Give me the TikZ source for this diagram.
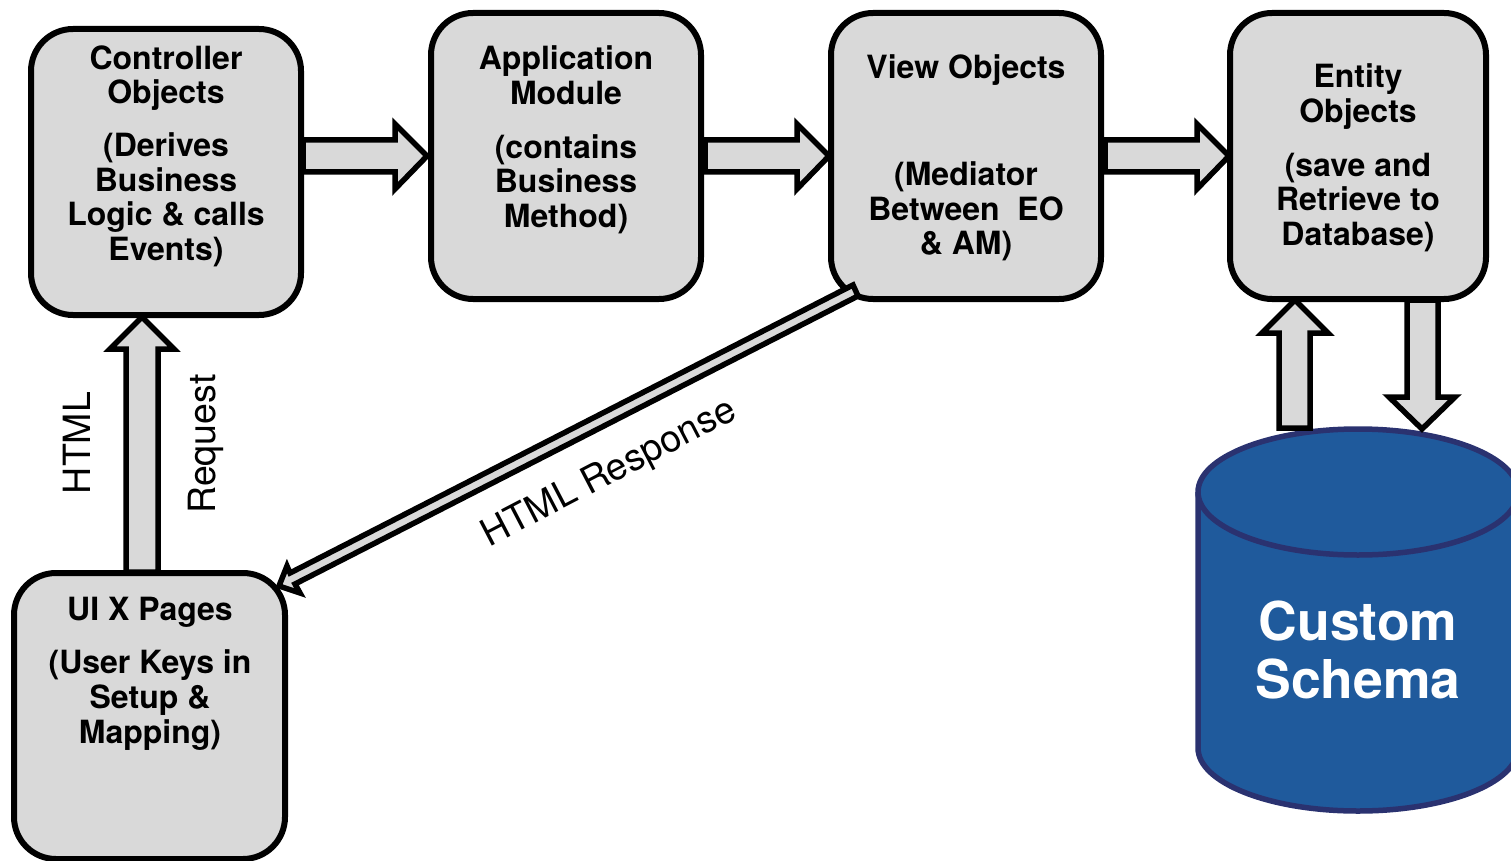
\documentclass[tikz,border=0pt]{standalone}
\usepackage{fontspec}
\setmainfont{TeX Gyre Heros}
\definecolor{boxgray}{RGB}{217,217,217}
\definecolor{dbblue}{RGB}{31,90,156}
\definecolor{dbline}{RGB}{42,50,112}
\tikzset{
  x=1pt,y=-1pt,
  boxnode/.style={draw=black,line width=6pt,fill=boxgray,rounded corners=42pt,minimum width=#1,inner sep=0pt,anchor=north west},
  blockarrow/.style={draw=black,line width=5.5pt,fill=boxgray,miter limit=10},
  boxtext/.style={font=\fontsize{32}{34.5}\selectfont\bfseries,text=black,text height=23pt,text depth=0pt,inner sep=0pt},
  dbtext/.style={font=\fontsize{53.5}{58}\selectfont\bfseries,text=white,text height=38pt,text depth=0pt,inner sep=0pt},
  plaintext/.style={font=\fontsize{37.5}{40}\selectfont,text=black},
  cyl/.style={draw=dbline,line width=5.5pt},
}
\begin{document}
\begin{tikzpicture}
\useasboundingbox (0,0) rectangle (1511,861);
% database cylinder
\draw[cyl,fill=dbblue] (1198,492) -- (1198,748)
  .. controls (1198,782.8) and (1269.6,811) .. (1358,811)
  .. controls (1446.4,811) and (1518,782.8) .. (1518,748) -- (1518,492)
  .. controls (1518,457.2) and (1446.4,429) .. (1358,429)
  .. controls (1269.6,429) and (1198,457.2) .. cycle;
\draw[cyl] (1198,492) .. controls (1198,526.8) and (1269.6,555) .. (1358,555)
  .. controls (1446.4,555) and (1518,526.8) .. (1518,492);
% block arrows
\draw[blockarrow] (303,140) -- (395,140) -- (395,124) -- (427,156) -- (395,189) -- (395,172) -- (303,172) -- cycle;
\draw[blockarrow] (705,140) -- (797,140) -- (797,124) -- (829,156) -- (797,189) -- (797,172) -- (705,172) -- cycle;
\draw[blockarrow] (1105,140) -- (1197,140) -- (1197,124) -- (1229,156) -- (1197,189) -- (1197,172) -- (1105,172) -- cycle;
\draw[blockarrow] (126,572) -- (126,349) -- (110,349) -- (142,317) -- (174,349) -- (158,349) -- (158,572) -- cycle;
\draw[blockarrow] (1279,428) -- (1279,333) -- (1262,333) -- (1295,300) -- (1328,333) -- (1310,333) -- (1310,428) -- cycle;
\draw[blockarrow] (1407,300) -- (1407,397) -- (1389,397) -- (1422,429) -- (1455,397) -- (1438,397) -- (1438,300) -- cycle;
% boxes
\node[boxnode=270pt,minimum height=286pt] (ctrl) at (28,26) {};
\node[boxnode=270pt,minimum height=286pt] (app) at (428,10) {};
\node[boxnode=270pt,minimum height=286pt] (view) at (828,10) {};
\node[boxnode=256pt,minimum height=286pt] (ent) at (1227,10) {};
\node[boxnode=271pt,minimum height=286pt] (uix) at (11,570) {};
% diagonal arrow
\draw[blockarrow] (853,285) -- (858,296) -- (295,584) -- (300,593) -- (279,586) -- (287,566) -- (290,573) -- cycle;
% text
\node[boxtext] (c1) at (166,58) {Controller};
\node[boxtext] (c2) at (166,92) {Objects};
\node[boxtext] (c3) at (166,145) {(Derives};
\node[boxtext] (c4) at (166,180) {Business};
\node[boxtext] (c5) at (166,214) {Logic \& calls};
\node[boxtext] (c6) at (166,249) {Events)};
\node[boxtext] (a1) at (566,58) {Application};
\node[boxtext] (a2) at (566,93) {Module};
\node[boxtext] (a3) at (566,147) {(contains};
\node[boxtext] (a4) at (566,181) {Business};
\node[boxtext] (a5) at (566,216) {Method)};
\node[boxtext] (v1) at (966,67) {View Objects};
\node[boxtext] (v2) at (966,174) {(Mediator};
\node[boxtext] (v3) at (966,208.5) {Between~ EO};
\node[boxtext] (v4) at (966,243) {\& AM)};
\node[boxtext] (e1) at (1358,76) {Entity};
\node[boxtext] (e2) at (1358,111) {Objects};
\node[boxtext] (e3) at (1358,165) {(save and};
\node[boxtext] (e4) at (1358,199) {Retrieve to};
\node[boxtext] (e5) at (1358,234) {Database)};
\node[boxtext] (u1) at (150,609) {UI X Pages};
\node[boxtext] (u2) at (150,662) {(User Keys in};
\node[boxtext] (u3) at (150,697) {Setup \&};
\node[boxtext] (u4) at (150,731.5) {Mapping)};
\node[dbtext] (d1) at (1358,621.5) {Custom};
\node[dbtext] (d2) at (1358,679.5) {Schema};
\node[plaintext,rotate=90] (html) at (77,443) {HTML};
\node[plaintext,rotate=90] (req) at (205.5,444) {Request};
\node[plaintext,rotate=27.5] (resp) at (609.5,474) {HTML Response};
\end{tikzpicture}
\end{document}
